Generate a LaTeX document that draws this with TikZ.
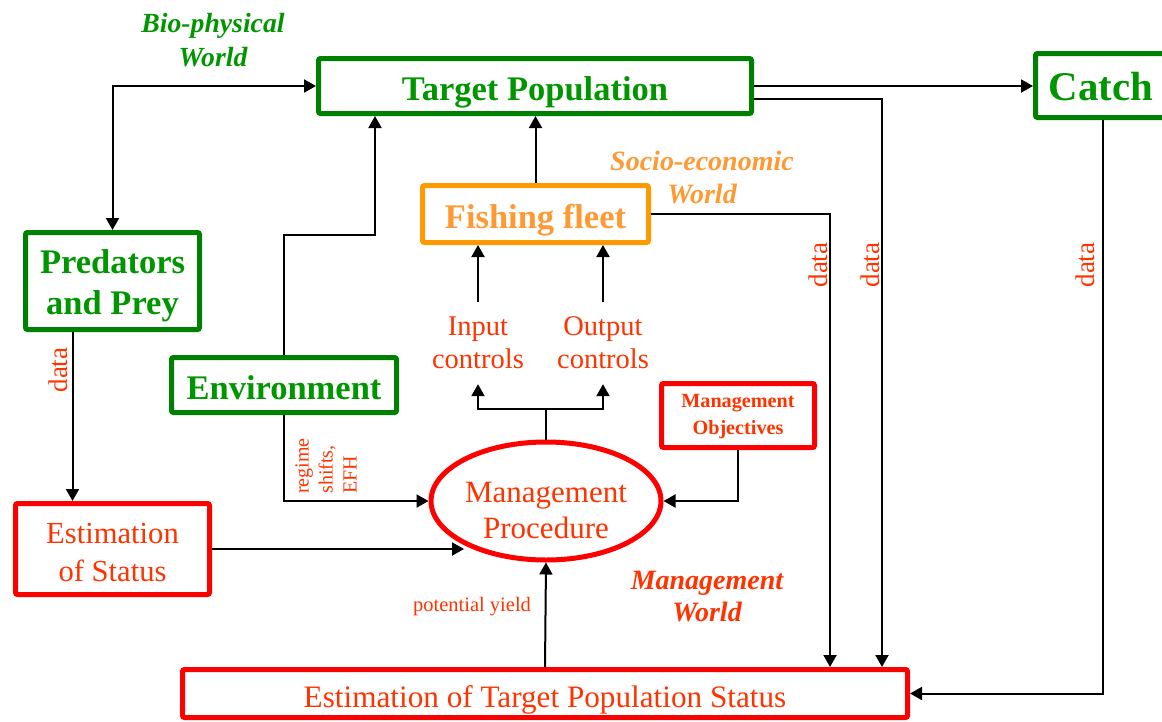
\documentclass[tikz,border=0pt]{standalone}
\usepackage{fontspec}
\setmainfont{Liberation Serif}
\usetikzlibrary{arrows.meta,shapes.geometric,calc}
\definecolor{bgreen}{RGB}{0,128,0}
\definecolor{tgreen}{RGB}{0,150,0}
\definecolor{borange}{RGB}{255,153,0}
\definecolor{torange}{RGB}{255,153,51}
\definecolor{bred}{RGB}{255,0,0}
\definecolor{tred}{RGB}{255,51,0}
\begin{document}
\begin{tikzpicture}[x=1pt,y=-1pt,
  box/.style={draw, line width=5pt, rounded corners=2pt, inner sep=0pt},
  gbox/.style={box, draw=bgreen},
  obox/.style={box, draw=borange},
  rbox/.style={box, draw=bred},
  gtxt/.style={inner sep=0pt, align=center, text=tgreen, font=\fontsize{34.5}{41}\selectfont\bfseries},
  otxt/.style={inner sep=0pt, align=center, text=torange, font=\fontsize{34.5}{41}\selectfont\bfseries},
  rtxt/.style={inner sep=0pt, align=center, text=tred, font=\fontsize{30.6}{38}\selectfont},
  lbl/.style={text=tred, inner sep=0pt, align=center},
  world/.style={inner sep=0pt, align=center},
  conn/.style={line width=2pt, black},
  arr/.style={conn, -{Triangle[length=12pt,width=13pt]}},
  biarr/.style={conn, {Triangle[length=12pt,width=13pt]}-{Triangle[length=12pt,width=13pt]}}
]
\clip (0,0) rectangle (1162,721);
% boxes
\node[gbox, minimum width=433pt, minimum height=55pt] (tp) at (535,86) {};
\node[gtxt] (tpt) at ($(tp.center)+(0,6)$) {Target Population};
\node[gbox, minimum width=135pt, minimum height=64pt] (catch) at (1103,85.5) {};
\node[gtxt, font=\fontsize{40.8}{46}\selectfont\bfseries] (catcht) at ($(catch.center)+(-2,1.5)$) {Catch};
\node[gbox, minimum width=174pt, minimum height=97pt] (pp) at (112.5,281) {};
\node[gtxt] (ppt) at ($(pp.center)+(0,5)$) {Predators\\and Prey};
\node[gbox, minimum width=225pt, minimum height=55pt] (env) at (284,385) {};
\node[gtxt] (envt) at ($(env.center)+(0,3)$) {Environment};
\node[obox, minimum width=226pt, minimum height=57pt] (ff) at (535.5,214) {};
\node[otxt] (fft) at ($(ff.center)+(0,6)$) {Fishing fleet};
\node[rbox, minimum width=153pt, minimum height=64pt] (mo) at (738,415.5) {};
\node[rtxt, font=\fontsize{20.2}{27}\selectfont\bfseries] (mot) at ($(mo.center)+(0,1)$) {Management\\Objectives};
\node[draw=bred, line width=5pt, ellipse, inner sep=0pt, minimum width=230pt, minimum height=118pt] (mp) at (546,501) {};
\node[rtxt, font=\fontsize{31}{36}\selectfont] (mpt) at ($(mp.center)+(0,9)$) {Management\\Procedure};
\node[rbox, minimum width=194pt, minimum height=91pt] (es) at (112.5,549) {};
\node[rtxt] (est) at ($(es.center)+(0,3.5)$) {Estimation\\of Status};
\node[rbox, minimum width=725pt, minimum height=48pt] (etp) at (545,693.5) {};
\node[rtxt, font=\fontsize{31.2}{36}\selectfont] (etpt) at ($(etp.center)+(0,6)$) {Estimation of Target Population Status};
% controls
\node[lbl, minimum height=82pt, font=\fontsize{28.5}{33}\selectfont] (ic) at (478,343) {Input\\controls};
\node[lbl, minimum height=82pt, font=\fontsize{28.5}{33}\selectfont] (oc) at (603,343) {Output\\controls};
% world labels
\node[world, text=tgreen, font=\fontsize{27.7}{34}\selectfont\bfseries\itshape] (bio) at (213,40) {Bio-physical\\World};
\node[world, text=torange, font=\fontsize{28}{33}\selectfont\bfseries\itshape] (socio) at (702,177) {Socio-economic\\World};
\node[world, text=tred, font=\fontsize{28}{32}\selectfont\bfseries\itshape] (mw) at (707,597) {Management\\World};
% small labels
\node[lbl, rotate=90, font=\fontsize{27}{30}\selectfont] (data1) at (58,370) {data};
\node[lbl, rotate=90, font=\fontsize{27}{30}\selectfont] (data2) at (818,265) {data};
\node[lbl, rotate=90, font=\fontsize{27}{30}\selectfont] (data3) at (870,265) {data};
\node[lbl, rotate=90, font=\fontsize{27}{30}\selectfont] (data4) at (1085,265) {data};
\node[lbl, rotate=90, align=left, font=\fontsize{20}{24}\selectfont] (regime) at (326,466) {regime\\shifts,\\EFH};
\node[lbl, font=\fontsize{20.5}{23}\selectfont] (py) at (472,607) {potential yield};
% connectors
\draw[biarr] (pp.north) |- (tp.west);
\coordinate (ej) at (375,235);
\draw[arr] (env.north) |- (ej) -- (ej |- tp.south);
\draw[arr] (ff.north) -- (ff.north |- tp.south);
\draw[arr] (tp.east) -- (tp.east -| catch.west);
\coordinate (d2) at (882,99);
\draw[arr] (tp.east |- d2) -| (d2 |- etp.north);
\coordinate (d1) at (830,215);
\draw[arr] (ff.east) -| (d1 |- etp.north);
\draw[arr] (catch.south) |- (etp.east);
\draw[arr] ($(pp.south)+(-40,0)$) -- ($(es.north)+(-40,0)$);
\draw[arr] (env.south) |- (mp.west);
\draw[arr] (es.east) -- ($(es.east -| mp.center)+(-82,0)$);
\draw[arr] (mo.south) |- (mp.east);
\draw[arr] (etp.north) -- (mp.south);
\coordinate (br) at ($(mp.north)+(0,-31)$);
\draw[conn] (mp.north) -- (br);
\draw[arr] (br) -| (ic.south);
\draw[arr] (br) -| (oc.south);
\draw[arr] (ic.north) -- (ic.north |- ff.south);
\draw[arr] (oc.north) -- (oc.north |- ff.south);
\end{tikzpicture}
\end{document}
